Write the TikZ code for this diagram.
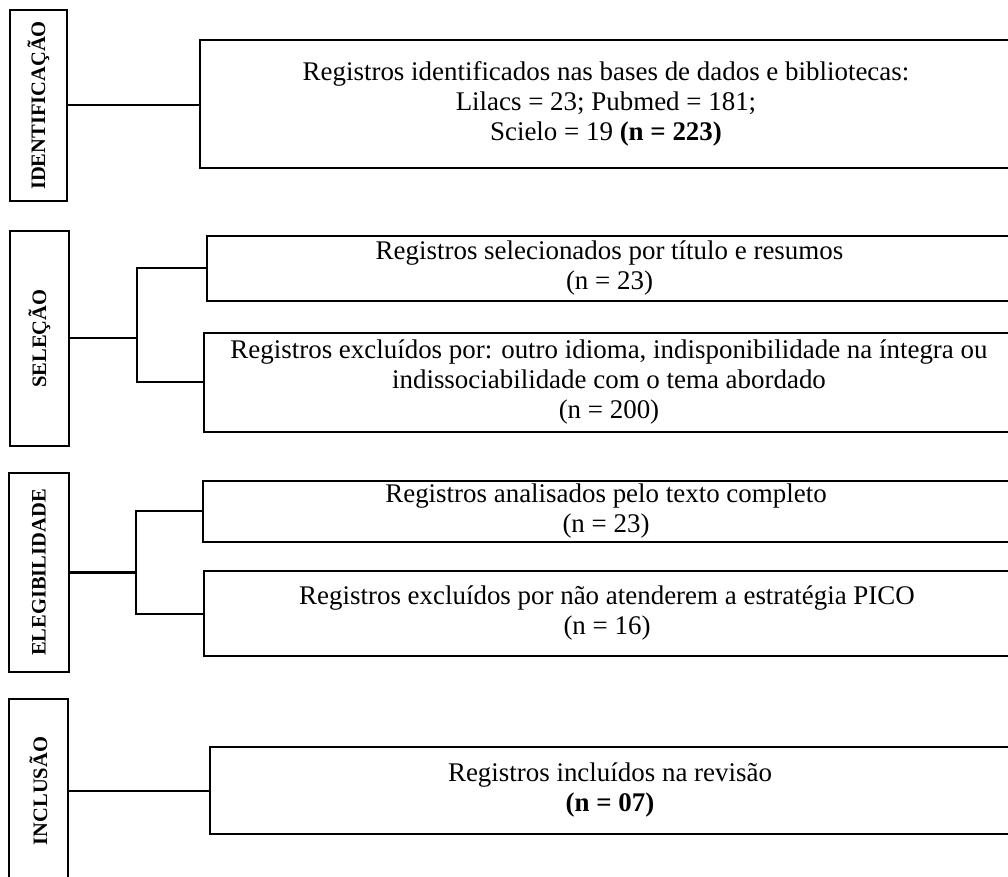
\documentclass[tikz,border=0pt]{standalone}
\usepackage{fontspec}
\setmainfont{Liberation Serif}
\begin{document}
\begin{tikzpicture}[x=0.75pt,y=-0.75pt,
  line width=1.5pt,
  box/.style={draw=black, line width=1.5pt, rectangle, inner sep=0pt, align=center,
    font=\fontsize{20.2}{22.5}\selectfont},
  labelbox/.style={draw=black, line width=1.5pt, rectangle, inner sep=0pt,
    font=\fontsize{15.4}{17}\selectfont\bfseries},
  conn/.style={draw=black, line width=1.5pt}
]
\useasboundingbox (0,0) rectangle (1008,877);
\clip (0,0) rectangle (1008,877);

% stage labels
\node[labelbox, minimum width=57*0.75pt, minimum height=191*0.75pt] (id) at (38.5,105.5) {\rotatebox{90}{IDENTIFICAÇÃO}};
\node[labelbox, minimum width=59*0.75pt, minimum height=215*0.75pt] (sel) at (39.5,338.5) {\rotatebox{90}{SELEÇÃO}};
\node[labelbox, minimum width=60*0.75pt, minimum height=199*0.75pt] (ele) at (39,572.5) {\rotatebox{90}{ELEGIBILIDADE}};
\node[labelbox, minimum width=59*0.75pt, minimum height=184*0.75pt] (inc) at (38.5,791) {\rotatebox{90}{INCLUSÃO}};

% content boxes
\node[box, minimum width=812*0.75pt, minimum height=128*0.75pt] (b1) at (606,104)
  {Registros identificados nas bases de dados e bibliotecas:\\Lilacs = 23; Pubmed = 181;\\Scielo = 19 \textbf{(n = 223)}};
\node[box, minimum width=805*0.75pt, minimum height=65*0.75pt] (b2) at (609.5,268.5)
  {Registros selecionados por título e resumos\\(n = 23)};
\node[box, minimum width=810*0.75pt, minimum height=99*0.75pt] (b3) at (609,382.5)
  {Registros excluídos por: outro idioma, indisponibilidade na íntegra ou\\indissociabilidade com o tema abordado\\(n = 200)};
\node[box, minimum width=806*0.75pt, minimum height=61*0.75pt] (b4) at (606,511.5)
  {Registros analisados pelo texto completo\\(n = 23)};
\node[box, minimum width=806*0.75pt, minimum height=85*0.75pt] (b5) at (607,613.5)
  {Registros excluídos por não atenderem a estratégia PICO\\(n = 16)};
\node[box, minimum width=800*0.75pt, minimum height=87*0.75pt] (b6) at (610,790.5)
  {Registros incluídos na revisão\\\textbf{(n = 07)}};

% junction coordinates
\coordinate (j1) at (137,338.5);
\coordinate (j2) at (136,572.5);

% connectors
\draw[conn] (id.east) -- (id.east -| b1.west);
\draw[conn] (sel.east) -- (j1);
\draw[conn] (b2.west) -- (b2.west -| j1) -- (b3.west -| j1) -- (b3.west);
\draw[conn] (ele.east) -- (j2);
\draw[conn] (b4.west) -- (b4.west -| j2) -- (b5.west -| j2) -- (b5.west);
\draw[conn] (inc.east) -- (inc.east -| b6.west);
\end{tikzpicture}
\end{document}
